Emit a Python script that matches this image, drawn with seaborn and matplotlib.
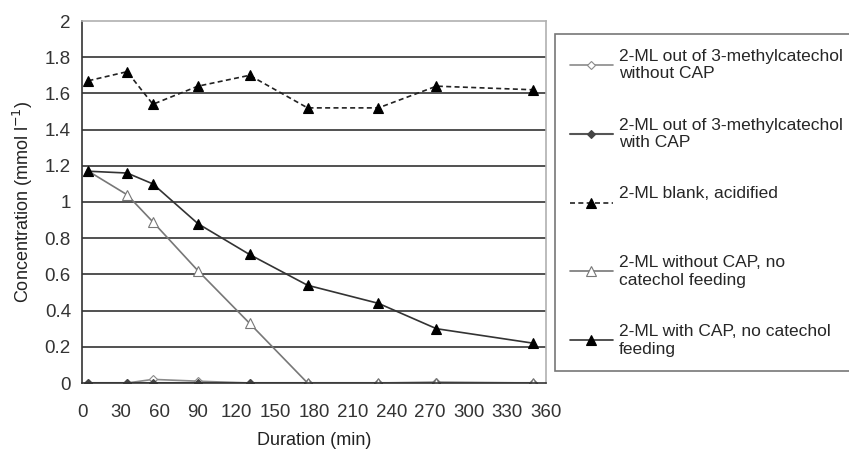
import matplotlib
matplotlib.use("Agg")
import matplotlib.pyplot as plt
import numpy as np
import pandas as pd
import seaborn as sns

# time points (min)
duration = [5, 35, 55, 90, 130, 175, 230, 275, 350]

# concentrations (mmol l-1)
ml_3mc_without_cap = [0.0, 0.0, 0.02, 0.01, 0.0, 0.0, 0.0, 0.005, 0.0]
ml_3mc_with_cap = [0.0, 0.0, 0.0, 0.0, 0.0, 0.0, 0.0, 0.0, 0.0]
ml_blank = [1.67, 1.72, 1.54, 1.64, 1.70, 1.52, 1.52, 1.64, 1.62]
ml_without_cap = [1.17, 1.04, 0.89, 0.62, 0.33, 0.0, 0.0, 0.0, 0.0]
ml_with_cap = [1.17, 1.16, 1.10, 0.88, 0.71, 0.54, 0.44, 0.30, 0.22]

labels = [
    "2-ML out of 3-methylcatechol\nwithout CAP",
    "2-ML out of 3-methylcatechol\nwith CAP",
    "2-ML blank, acidified\n ",
    "2-ML without CAP, no\ncatechol feeding",
    "2-ML with CAP, no catechol\nfeeding",
]
series = [ml_3mc_without_cap, ml_3mc_with_cap, ml_blank, ml_without_cap, ml_with_cap]

styles = [
    dict(color="#8a8a8a", marker="D", ms=4, mfc="white", mec="#8a8a8a", ls="-", lw=1.2),
    dict(color="#555555", marker="D", ms=4, mfc="#444444", mec="#444444", ls="-", lw=1.5),
    dict(color="#222222", marker="^", ms=7, mfc="black", mec="black", ls=(0, (3, 2)), lw=1.2),
    dict(color="#777777", marker="^", ms=6.5, mfc="white", mec="#777777", ls="-", lw=1.2),
    dict(color="#333333", marker="^", ms=7, mfc="black", mec="black", ls="-", lw=1.2),
]

sns.set_theme(style="white")
plt.rcParams["font.family"] = ["Liberation Sans", "DejaVu Sans"]

fig = plt.figure(figsize=(8.49, 4.53), dpi=100)
ax = fig.add_axes([82 / 849, 1 - 383 / 453, 464 / 849, 362 / 453])

for vals, lab, st in zip(series, labels, styles):
    df = pd.DataFrame({"Duration": duration, "Conc": vals})
    sns.lineplot(
        data=df, x="Duration", y="Conc", ax=ax, label=lab,
        color=st["color"], marker=st["marker"], markersize=st["ms"],
        markerfacecolor=st["mfc"], markeredgecolor=st["mec"],
        linestyle=st["ls"], linewidth=st["lw"], markeredgewidth=0.8,
    )

ax.set_xlim(0, 360)
ax.set_ylim(0, 2)
ax.set_xticks(np.arange(0, 361, 30))
yt = np.round(np.arange(0, 2.01, 0.2), 1)
ax.set_yticks(yt)
ax.set_yticklabels(["0" if v == 0 else ("1" if v == 1 else ("2" if v == 2 else f"{v:.1f}")) for v in yt])

for y in yt[1:-1]:
    ax.axhline(y, color="#333333", lw=1.2, zorder=0)

for side in ["top", "right"]:
    ax.spines[side].set_color("#b0b0b0")
    ax.spines[side].set_linewidth(1.2)
for side in ["left", "bottom"]:
    ax.spines[side].set_color("#333333")
    ax.spines[side].set_linewidth(1.2)

ax.tick_params(axis="both", labelsize=13.5, labelcolor="#333333", colors="#333333")
ax.tick_params(axis="x", direction="inout", length=8, width=1, pad=11)
ax.tick_params(axis="y", direction="out", length=5, width=1, pad=3)

ax.set_xlabel("Duration (min)", fontsize=13, color="#222222", labelpad=8)
ax.set_ylabel("Concentration (mmol l$^{-1}$)", fontsize=13, color="#222222", labelpad=7)

ax.legend(
    loc="upper left", bbox_to_anchor=(555 / 849, 1 - 34 / 453),
    bbox_transform=fig.transFigure, borderaxespad=0, frameon=True,
    fancybox=False, edgecolor="#555555", fontsize=12.5, handlelength=2.5,
    labelspacing=2.1, borderpad=0.85, handletextpad=0.35,
)
ax.get_legend().get_frame().set_linewidth(1.2)

fig.savefig("out.png", dpi=100)
